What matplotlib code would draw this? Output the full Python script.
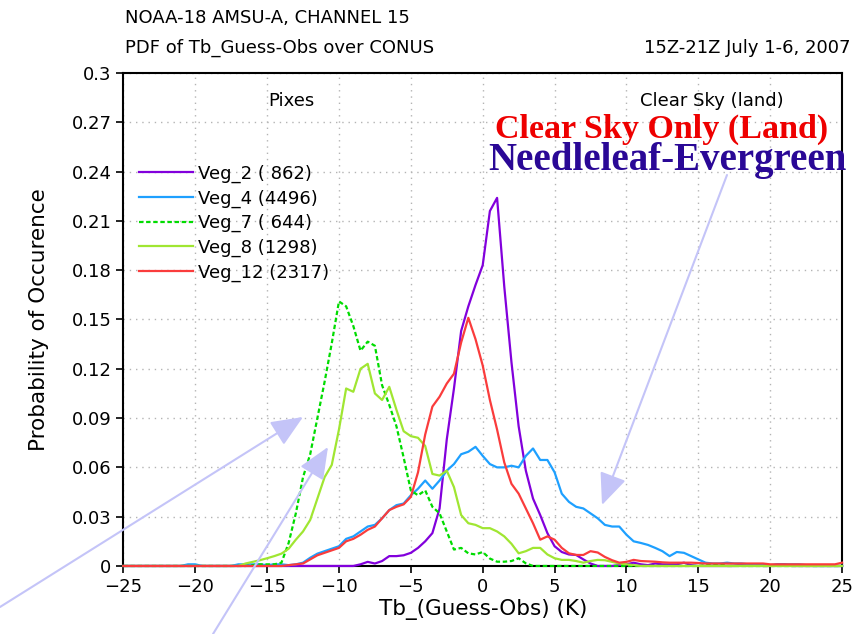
import numpy as np
import matplotlib
matplotlib.use("Agg")
import matplotlib.pyplot as plt

# bin centres of the PDF, every 0.5 K from -25 to 25
tb = np.arange(-25, 25.5, 0.5)

veg_2 = [0, 0, 0, 0, 0, 0, 0, 0, 0, 0,
         0, 0, 0, 0, 0, 0, 0, 0, 0, 0,
         0, 0, 0, 0, 0, 0, 0, 0, 0, 0,
         0, 0, 0, 0.001, 0.0025, 0.0015, 0.003, 0.006, 0.006, 0.0065,
         0.008, 0.011, 0.015, 0.020, 0.035, 0.077, 0.108, 0.143, 0.158, 0.171,
         0.183, 0.216, 0.224, 0.170, 0.124, 0.085, 0.058, 0.041, 0.031, 0.020,
         0.012, 0.0085, 0.007, 0.0067, 0.004, 0.0015, 0, 0, 0, 0.0005,
         0.001, 0.002, 0.001, 0.0005, 0.0015, 0.001, 0.001, 0.001, 0.002, 0.0005,
         0, 0, 0, 0, 0, 0, 0.001, 0, 0.0005, 0,
         0, 0.001, 0.001, 0, 0, 0, 0, 0, 0, 0,
         0]

veg_4 = [0, 0, 0, 0, 0, 0, 0, 0, 0, 0.001,
         0.001, 0, 0, 0, 0, 0, 0.001, 0.001, 0.001, 0.001,
         0.0005, 0.001, 0.001, 0.0005, 0.001, 0.002, 0.005, 0.0075, 0.009, 0.0105,
         0.012, 0.0165, 0.018, 0.021, 0.024, 0.025, 0.029, 0.034, 0.037, 0.038,
         0.043, 0.047, 0.052, 0.047, 0.052, 0.058, 0.062, 0.068, 0.0695, 0.0725,
         0.067, 0.062, 0.060, 0.060, 0.061, 0.060, 0.067, 0.0715, 0.0645, 0.0645,
         0.057, 0.044, 0.039, 0.036, 0.035, 0.032, 0.029, 0.025, 0.024, 0.024,
         0.019, 0.015, 0.014, 0.0128, 0.011, 0.009, 0.006, 0.0085, 0.008, 0.006,
         0.004, 0.002, 0.0015, 0.0015, 0.002, 0.0015, 0.0015, 0.001, 0.001, 0.001,
         0.0005, 0.001, 0.001, 0.001, 0.001, 0.0005, 0, 0, 0, 0,
         0]

veg_7 = [0, 0, 0, 0, 0, 0, 0, 0, 0, 0,
         0, 0, 0, 0, 0, 0, 0, 0, 0.0005, 0.001,
         0.001, 0.001, 0.002, 0.014, 0.032, 0.054, 0.068, 0.090, 0.112, 0.1355,
         0.161, 0.158, 0.146, 0.131, 0.1365, 0.134, 0.110, 0.098, 0.085, 0.066,
         0.046, 0.043, 0.046, 0.036, 0.032, 0.021, 0.010, 0.011, 0.0077, 0.007,
         0.0085, 0.0045, 0.0026, 0.0026, 0.003, 0.0047, 0.0016, 0, 0, 0,
         0, 0, 0, 0, 0, 0, 0, 0, 0, 0,
         0, 0, 0, 0, 0, 0, 0, 0, 0, 0,
         0, 0.0005, 0.001, 0.001, 0, 0, 0, 0, 0, 0,
         0, 0, 0, 0, 0, 0, 0, 0, 0, 0,
         0]

veg_8 = [0, 0, 0, 0, 0, 0, 0, 0, 0, 0,
         0, 0, 0, 0, 0, 0, 0, 0.0015, 0.0025, 0.0035,
         0.0047, 0.006, 0.0075, 0.0105, 0.016, 0.021, 0.028, 0.041, 0.054, 0.0615,
         0.083, 0.108, 0.106, 0.120, 0.123, 0.105, 0.101, 0.109, 0.095, 0.082,
         0.079, 0.078, 0.073, 0.056, 0.055, 0.058, 0.048, 0.031, 0.026, 0.025,
         0.023, 0.023, 0.021, 0.018, 0.0135, 0.0077, 0.009, 0.011, 0.011, 0.007,
         0.0047, 0.0037, 0.0037, 0.003, 0.002, 0.003, 0.0037, 0.0035, 0.0025, 0.0015,
         0.001, 0.0005, 0, 0, 0, 0, 0, 0, 0, 0,
         0, 0, 0, 0, 0, 0, 0, 0, 0, 0,
         0, 0, 0, 0, 0, 0, 0, 0, 0, 0,
         0]

veg_12 = [0, 0, 0, 0, 0, 0, 0, 0, 0, 0,
          0, 0, 0, 0, 0, 0, 0, 0, 0, 0,
          0, 0, 0, 0.0005, 0.001, 0.0015, 0.004, 0.0065, 0.008, 0.0095,
          0.011, 0.015, 0.0165, 0.019, 0.022, 0.024, 0.029, 0.034, 0.036, 0.0375,
          0.042, 0.057, 0.080, 0.097, 0.103, 0.111, 0.117, 0.136, 0.151, 0.138,
          0.122, 0.101, 0.083, 0.063, 0.050, 0.044, 0.035, 0.026, 0.016, 0.018,
          0.016, 0.011, 0.0077, 0.0067, 0.0067, 0.009, 0.0082, 0.0055, 0.0035, 0.002,
          0.0025, 0.0037, 0.003, 0.0028, 0.0026, 0.0022, 0.002, 0.002, 0.002, 0.002,
          0.0018, 0.0015, 0.0015, 0.0015, 0.0015, 0.0015, 0.0015, 0.0015, 0.0015, 0.0015,
          0.001, 0.001, 0.001, 0.001, 0.001, 0.001, 0.001, 0.001, 0.001, 0.001,
          0.002]

labels = ["Veg_2 ( 862)", "Veg_4 (4496)", "Veg_7 ( 644)", "Veg_8 (1298)", "Veg_12 (2317)"]
colors = ["#8200dc", "#1ea0ff", "#00dc00", "#a0e632", "#fa3c3c"]
styles = ["-", "-", (0, (2, 1.2)), "-", "-"]

xticks = np.arange(-25, 30, 5)
yticks = [0, 0.03, 0.06, 0.09, 0.12, 0.15, 0.18, 0.21, 0.24, 0.27, 0.3]
ytick_labels = ["0", "0.03", "0.06", "0.09", "0.12", "0.15", "0.18", "0.21", "0.24", "0.27", "0.3"]

plt.rcParams["font.family"] = ["DejaVu Sans"]

fig = plt.figure(figsize=(8.66, 6.34), dpi=100)
ax = fig.add_axes([0.1424, 0.1073, 0.830, 0.7776])

for y, lab, c, ls in zip([veg_2, veg_4, veg_7, veg_8, veg_12], labels, colors, styles):
    ax.plot(tb, y, color=c, linestyle=ls, lw=1.6, label=lab, zorder=3, clip_on=False)

ax.set_xlim(-25, 25)
ax.set_ylim(0, 0.3)
ax.set_xticks(xticks)
ax.set_yticks(yticks)
ax.set_yticklabels(ytick_labels)
ax.tick_params(direction="out", length=5, width=1.2, labelsize=13, colors="black")
ax.grid(True, color="#b4b4b4", linestyle=(0, (1, 3.5)), lw=1)
for s in ax.spines.values():
    s.set_linewidth(1.5)
    s.set_zorder(2)

ax.set_xlabel("Tb_(Guess-Obs) (K)", fontsize=15.5, labelpad=2)
ax.set_ylabel("Probability of Occurence", fontsize=15.5, labelpad=16)

ax.legend(loc="upper left", bbox_to_anchor=(0.004, 0.84), frameon=False, fontsize=13,
          handlelength=3.0, handletextpad=0.3, labelspacing=0.36, borderaxespad=0.3)

ax.text(-13.3, 0.283, "Pixes", fontsize=13, ha="center", va="center")
ax.text(15.97, 0.283, "Clear Sky (land)", fontsize=13, ha="center", va="center")
ax.text(12.42, 0.2655, "Clear Sky Only (Land)", fontsize=24.5, family="Liberation Serif",
        weight="bold", color="#ee0000", ha="center", va="center")
ax.text(12.87, 0.2465, "Needleleaf-Evergreen", fontsize=28, family="Liberation Serif",
        weight="bold", color="#2a0896", ha="center", va="center")

fig.text(125 / 866, 1 - 18 / 634, "NOAA-18 AMSU-A, CHANNEL 15", fontsize=13, va="center")
fig.text(125 / 866, 1 - 48 / 634, "PDF of Tb_Guess-Obs over CONUS", fontsize=13, va="center")
fig.text(850 / 866, 1 - 48 / 634, "15Z-21Z July 1-6, 2007", fontsize=13, va="center", ha="right")

# light arrows pointing at the curves
arrow = dict(arrowstyle="-|>,head_length=1.4,head_width=0.6", color="#c4c4f8", lw=1.5,
             shrinkA=0, shrinkB=0, mutation_scale=14)
ax.annotate("", xy=(303 / 866, 217 / 634), xytext=(0, 27 / 634),
            xycoords="figure fraction", textcoords="figure fraction", arrowprops=arrow,
            annotation_clip=False)
ax.annotate("", xy=(328 / 866, 187 / 634), xytext=(213 / 866, 0),
            xycoords="figure fraction", textcoords="figure fraction", arrowprops=arrow,
            annotation_clip=False)
ax.annotate("", xy=(602 / 866, 129 / 634), xytext=(727 / 866, 459 / 634),
            xycoords="figure fraction", textcoords="figure fraction", arrowprops=arrow,
            annotation_clip=False)

fig.savefig("out.png", dpi=100)
